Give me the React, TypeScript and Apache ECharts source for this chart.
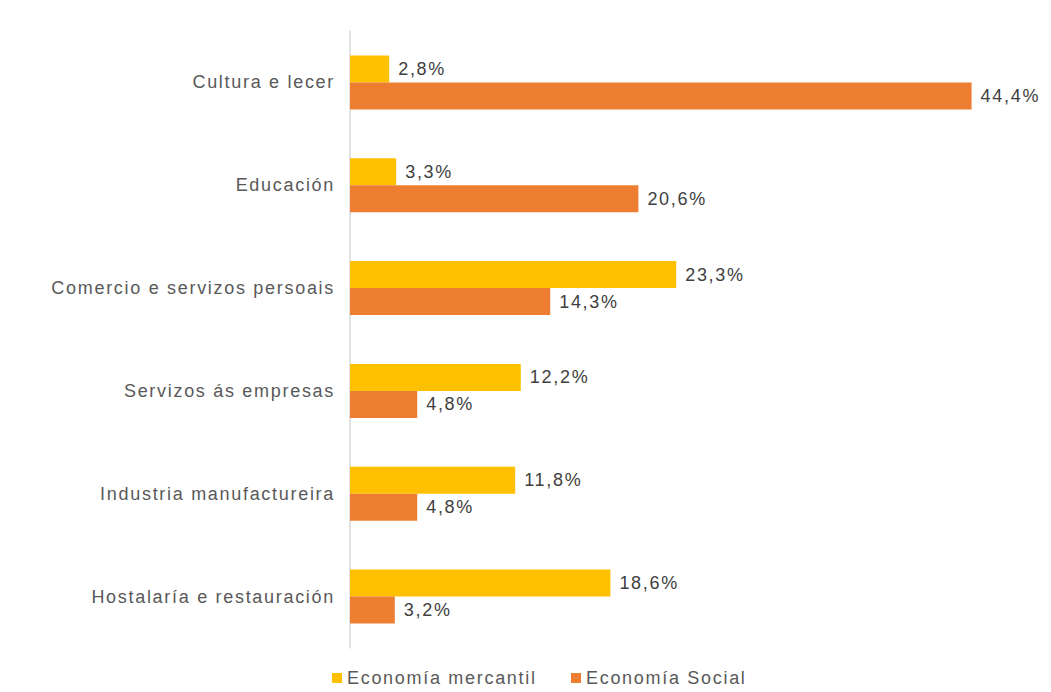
import React, { useEffect, useRef } from "react";
import * as echarts from "echarts";

const categories = [
  "Cultura e lecer",
  "Educación",
  "Comercio e servizos persoais",
  "Servizos ás empresas",
  "Industria manufactureira",
  "Hostalaría e restauración",
];
const mercantil = [2.8, 3.3, 23.3, 12.2, 11.8, 18.6];
const social = [44.4, 20.6, 14.3, 4.8, 4.8, 3.2];
const seriesNames = ["Economía mercantil", "Economía Social"];

const FONT = "Liberation Sans, Arial, sans-serif";

export default function App() {
  const ref = useRef<HTMLDivElement>(null);
  useEffect(() => {
    if (!ref.current) return;
    const el = ref.current;
    const chart = echarts.init(el, null, { renderer: "svg" });
    const labelStyle = {
      show: true,
      position: "right" as const,
      distance: 9,
      formatter: (p: any) => p.value.toFixed(1).replace(".", ",") + "%",
      color: "#404040",
      fontSize: 18,
      fontFamily: FONT,
    };
    const legendText = { color: "#595959", fontSize: 18, fontFamily: FONT };
    chart.setOption({
      animation: false,
      textStyle: { fontFamily: FONT },
      grid: { left: 342, top: 23, width: 700, height: 617, containLabel: false },
      xAxis: { type: "value", min: 0, max: 50, show: false },
      yAxis: {
        type: "category",
        data: categories,
        inverse: true,
        axisLine: { show: true, lineStyle: { color: "#d9d9d9", width: 1.5 } },
        axisTick: { show: false },
        axisLabel: { color: "#595959", fontSize: 18, margin: 15, fontFamily: FONT },
      },
      legend: [
        {
          left: 324,
          top: 661,
          padding: 0,
          itemWidth: 10,
          itemHeight: 10,
          icon: "rect",
          textStyle: legendText,
          data: [seriesNames[0]],
        },
        {
          left: 563,
          top: 661,
          padding: 0,
          itemWidth: 10,
          itemHeight: 10,
          icon: "rect",
          textStyle: legendText,
          data: [seriesNames[1]],
        },
      ],
      series: [
        {
          name: seriesNames[0],
          type: "bar",
          data: mercantil,
          barWidth: 27,
          barGap: "0%",
          itemStyle: { color: "#FFC000" },
          label: labelStyle,
        },
        {
          name: seriesNames[1],
          type: "bar",
          data: social,
          barWidth: 27,
          barGap: "0%",
          itemStyle: { color: "#ED7D31" },
          label: labelStyle,
        },
      ],
    });
    const spaceTexts = () => {
      el.querySelectorAll("text").forEach((t) => t.setAttribute("letter-spacing", "1.7px"));
    };
    spaceTexts();
    chart.on("finished", spaceTexts);
    const timer = setTimeout(spaceTexts, 50);
    return () => {
      clearTimeout(timer);
      chart.dispose();
    };
  }, []);
  return <div ref={ref} style={{ width: 1043, height: 684 }} />;
}
